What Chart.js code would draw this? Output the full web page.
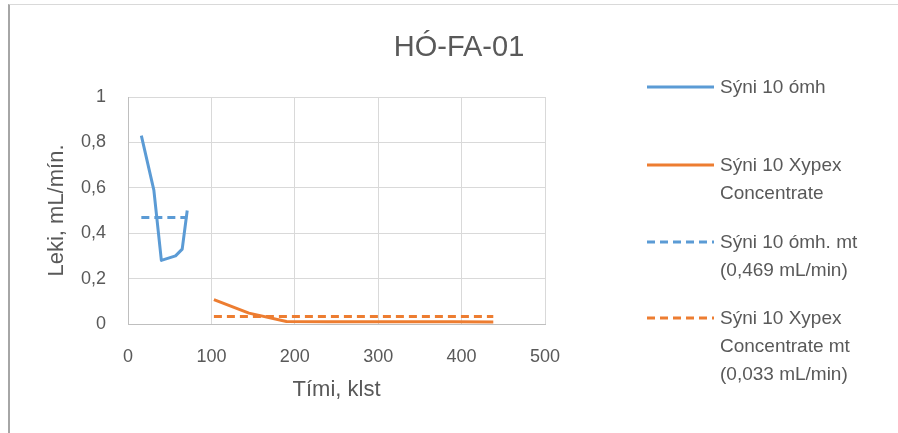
<!DOCTYPE html>
<html>
<head>
<meta charset="utf-8">
<script src="https://cdn.jsdelivr.net/npm/chart.js@4"></script>
<style>
	html, body { margin: 0; padding: 0; background: #fff; overflow: hidden; }
	#wrap { position: relative; width: 898px; height: 433px; font-family: 'Liberation Sans', Arial, sans-serif; color: #595959; }
	#frame { position: absolute; left: 8px; top: 4px; width: 1000px; height: 500px; border-left: 2px solid #a6a6a6; border-top: 1px solid #d9d9d9; }
	#title { position: absolute; left: 459px; top: 30px; transform: translateX(-50%); font-size: 29px; line-height: 32px; white-space: nowrap; }
	.row { position: absolute; left: 647px; font-size: 19px; line-height: 28px; white-space: nowrap; }
	.row svg { position: absolute; left: 0; top: 10px; }
	.row span { position: absolute; left: 73px; top: 0; }
	canvas { position: absolute; left: 0; top: 0; }
</style>
</head>
<body>
<div id="wrap">
	<div id="frame"></div>
	<canvas id="chart" width="898" height="433"></canvas>
	<div id="title"></div>
	<div id="legend"></div>
</div>
<script>
const chartTitle = 'HÓ-FA-01'
const seriesNames = [
	['Sýni 10 ómh'],
	['Sýni 10 Xypex', 'Concentrate'],
	['Sýni 10 ómh. mt', '(0,469 mL/min)'],
	['Sýni 10 Xypex', 'Concentrate mt', '(0,033 mL/min)'],
]
const seriesColors = ['#5b9bd5', '#ed7d31', '#5b9bd5', '#ed7d31']
const seriesDashed = [false, false, true, true]

// Sýni 10 ómh
const blueHours = [16, 31, 40, 57, 65, 71]
const blueLeak = [0.83, 0.59, 0.28, 0.30, 0.33, 0.50]
// Sýni 10 Xypex Concentrate
const orangeHours = [103, 145, 190, 240, 290, 340, 390, 438]
const orangeLeak = [0.107, 0.048, 0.011, 0.01, 0.01, 0.01, 0.01, 0.009]
// meðaltöl
const blueMeanHours = [16, 71]
const blueMeanLeak = [0.469, 0.469]
const orangeMeanHours = [103, 438]
const orangeMeanLeak = [0.033, 0.033]

const xTicks = [0, 100, 200, 300, 400, 500]
const yTicks = [0, 0.2, 0.4, 0.6, 0.8, 1]

function pts(xs, ys) {
	return xs.map((x, i) => ({ x: x, y: ys[i] }))
}

const seriesData = [
	pts(blueHours, blueLeak),
	pts(orangeHours, orangeLeak),
	pts(blueMeanHours, blueMeanLeak),
	pts(orangeMeanHours, orangeMeanLeak),
]

function fmt(v) {
	if (Math.abs(v - Math.round(v)) < 1e-9) return String(Math.round(v))
	return v.toFixed(1).replace('.', ',')
}

document.getElementById('title').textContent = chartTitle

// legend
const legendTops = [73, 151, 228, 304]
const legend = document.getElementById('legend')
seriesNames.forEach((lines, i) => {
	const row = document.createElement('div')
	row.className = 'row'
	row.style.top = legendTops[i] + 'px'
	const dash = seriesDashed[i] ? 'stroke-dasharray="8 5"' : ''
	row.innerHTML = '<svg width="67" height="8"><line x1="0" y1="4" x2="67" y2="4" stroke="' + seriesColors[i] + '" stroke-width="3" ' + dash + '/></svg>'
	const span = document.createElement('span')
	lines.forEach((t, j) => {
		if (j) span.appendChild(document.createElement('br'))
		span.appendChild(document.createTextNode(t))
	})
	row.appendChild(span)
	legend.appendChild(row)
})

Chart.defaults.font.family = "'Liberation Sans', Arial, sans-serif"
Chart.defaults.color = '#595959'

const ctx = document.getElementById('chart').getContext('2d')
new Chart(ctx, {
	type: 'line',
	data: {
		datasets: seriesData.map((d, i) => ({
			label: seriesNames[i].join(' '),
			data: d,
			borderColor: seriesColors[i],
			backgroundColor: seriesColors[i],
			borderWidth: 3,
			borderDash: seriesDashed[i] ? [8, 5] : [],
			borderJoinStyle: 'round',
			pointRadius: 0,
			tension: 0,
			fill: false,
		})),
	},
	options: {
		responsive: false,
		animation: false,
		layout: {
			padding: { left: 40, top: 97, right: 353, bottom: 26 },
		},
		plugins: {
			legend: { display: false },
			title: { display: false },
			tooltip: { enabled: false },
		},
		scales: {
			x: {
				type: 'linear',
				min: xTicks[0],
				max: xTicks[xTicks.length - 1],
				afterBuildTicks: (s) => { s.ticks = xTicks.map(v => ({ value: v })) },
				afterFit: (s) => { s.height = 83 },
				ticks: {
					font: { size: 18 },
					padding: 22,
					callback: (v) => String(v),
				},
				grid: { color: '#d9d9d9', drawTicks: false },
				border: { color: '#bfbfbf' },
				title: {
					display: true,
					text: 'Tími, klst',
					font: { size: 22 },
					padding: { top: 4, bottom: 4 },
				},
			},
			y: {
				min: yTicks[0],
				max: yTicks[yTicks.length - 1],
				afterBuildTicks: (s) => { s.ticks = yTicks.map(v => ({ value: v })) },
				afterFit: (s) => { s.width = 88 },
				ticks: {
					font: { size: 18 },
					padding: 22,
					callback: (v) => fmt(v),
				},
				grid: { color: '#d9d9d9', drawTicks: false },
				border: { color: '#bfbfbf' },
				title: {
					display: true,
					text: 'Leki, mL/mín.',
					font: { size: 22 },
					padding: { top: 4, bottom: 4 },
				},
			},
		},
	},
})
</script>
</body>
</html>
